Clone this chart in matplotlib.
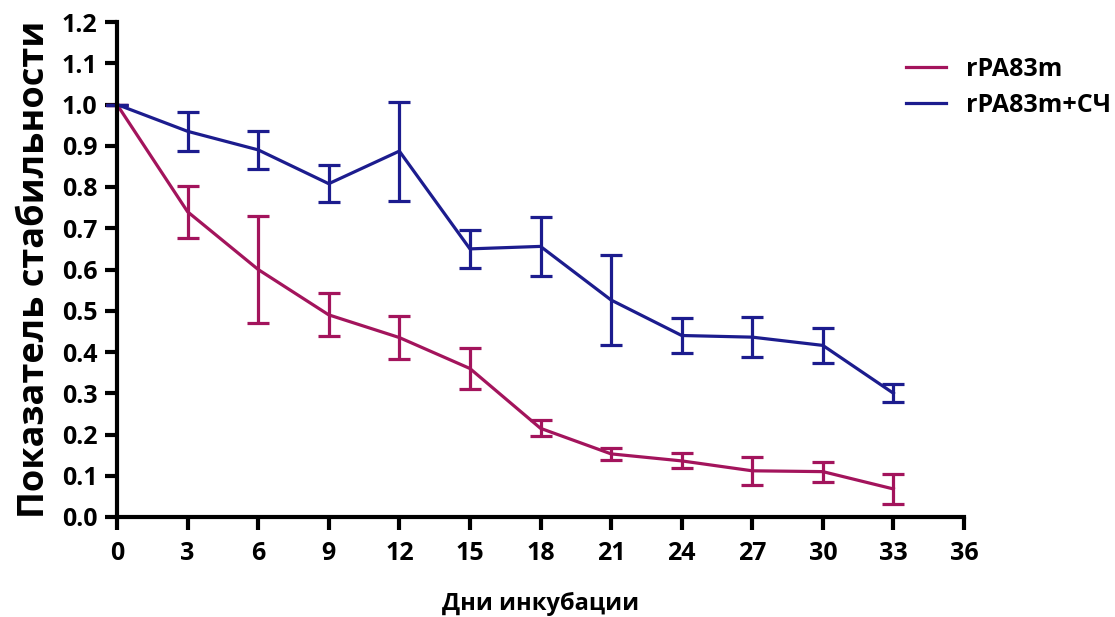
import matplotlib
matplotlib.use('Agg')
import matplotlib.pyplot as plt

plt.rcParams['font.family'] = ['Open Sans', 'DejaVu Sans']
plt.rcParams['font.weight'] = 'bold'

days = [0, 3, 6, 9, 12, 15, 18, 21, 24, 27, 30, 33]

# rPA83m
red_mean = [1.0, 0.74, 0.60, 0.49, 0.435, 0.36, 0.215, 0.153, 0.136, 0.112, 0.110, 0.068]
red_err = [0.0, 0.063, 0.13, 0.052, 0.052, 0.05, 0.019, 0.015, 0.018, 0.034, 0.024, 0.036]

# rPA83m+СЧ
blue_mean = [1.0, 0.935, 0.89, 0.808, 0.887, 0.65, 0.656, 0.526, 0.44, 0.436, 0.416, 0.300]
blue_err = [0.0, 0.048, 0.046, 0.045, 0.12, 0.046, 0.072, 0.11, 0.042, 0.048, 0.042, 0.022]

xticks = list(range(0, 37, 3))
yticks = [i / 10 for i in range(0, 13)]

red = '#A3145C'
blue = '#1C1C8E'

fig = plt.figure(figsize=(11.15, 6.17), dpi=100)
ax = fig.add_axes([117 / 1115, 100 / 617, 847 / 1115, 495 / 617])

ax.errorbar(days, red_mean, yerr=red_err, color=red, lw=2.3, capsize=8,
            capthick=2.3, elinewidth=2.3, label='rPA83m', clip_on=False)
ax.errorbar(days, blue_mean, yerr=blue_err, color=blue, lw=2.3, capsize=8,
            capthick=2.3, elinewidth=2.3, label='rPA83m+СЧ', clip_on=False)

ax.set_xlim(0, 36)
ax.set_ylim(0, 1.2)
ax.set_xticks(xticks)
ax.set_yticks(yticks)
ax.set_yticklabels(['%.1f' % v for v in yticks])

for side in ['top', 'right']:
    ax.spines[side].set_visible(False)
for side in ['left', 'bottom']:
    ax.spines[side].set_linewidth(3)
ax.tick_params(direction='out', length=9, width=3, labelsize=18, pad=5)
ax.tick_params(axis='x', pad=8)

ax.set_ylabel('Показатель стабильности', fontsize=26, fontweight='bold', labelpad=6)
ax.set_xlabel('Дни инкубации', fontsize=17, fontweight='bold', labelpad=19)

handles, labels = ax.get_legend_handles_labels()
handles = [h[0] for h in handles]
leg = ax.legend(handles, labels, loc='upper left', bbox_to_anchor=(0.905, 0.975),
                frameon=False, fontsize=18, handlelength=1.6, handletextpad=0.8,
                labelspacing=0.45)

fig.savefig('out.png', dpi=100)
